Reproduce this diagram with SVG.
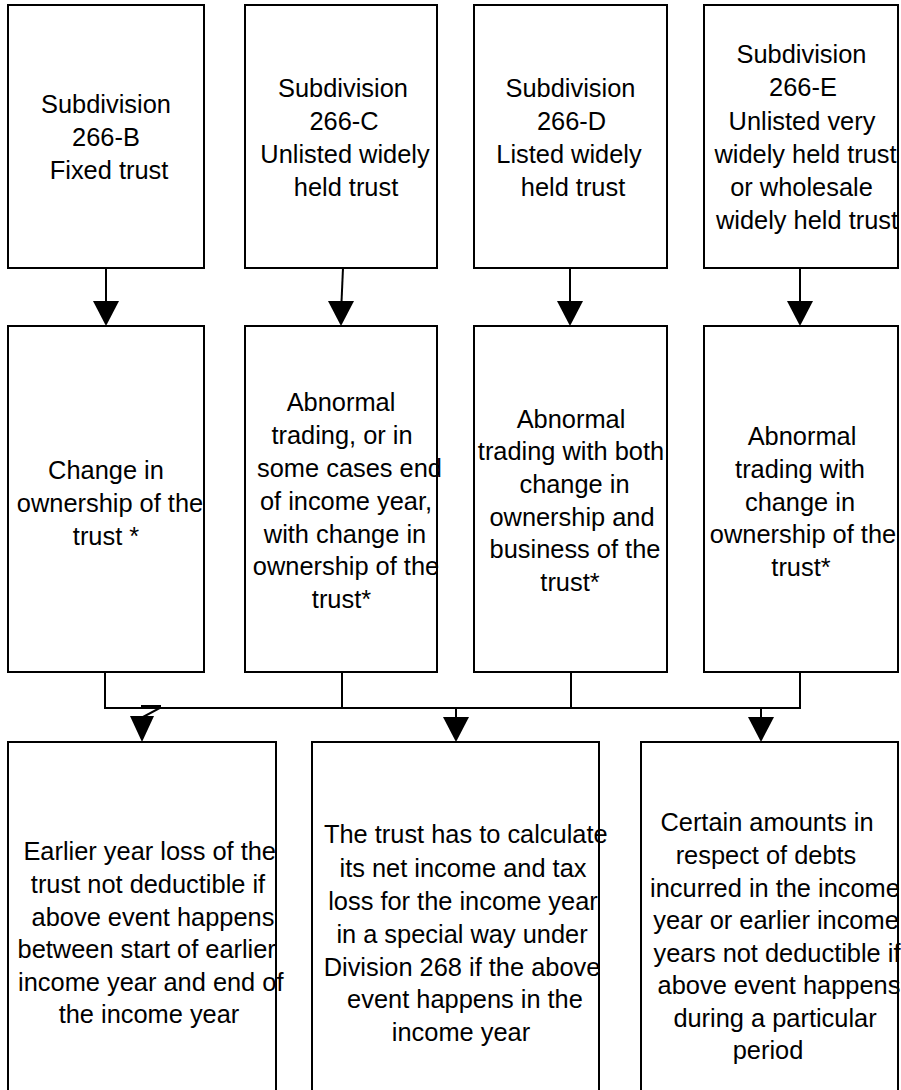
<svg xmlns="http://www.w3.org/2000/svg" width="901" height="1090" viewBox="0 0 901 1090">
<defs>
<style>
.bx{fill:none;stroke:#000;stroke-width:2}
.t{font-family:"Liberation Sans",Arial,sans-serif;font-size:25.4px;fill:#000;text-anchor:middle}
.c{fill:none;stroke:#000;stroke-width:2}
.ah{fill:#000;stroke:none}
</style>
</defs>
<rect x="0" y="0" width="901" height="1090" fill="#fff"/>
<g id="n1">
<text class="t"><tspan x="106" y="113">Subdivision</tspan><tspan x="106" y="146">266-B</tspan><tspan x="109" y="179">Fixed trust</tspan></text>
<rect class="bx" x="8" y="5" width="196" height="263"/>
</g>
<g id="n2">
<text class="t"><tspan x="343" y="97">Subdivision</tspan><tspan x="344" y="130">266-C</tspan><tspan x="345" y="163">Unlisted widely</tspan><tspan x="346" y="196">held trust</tspan></text>
<rect class="bx" x="245" y="5" width="192" height="263"/>
</g>
<g id="n3">
<text class="t"><tspan x="570.5" y="97">Subdivision</tspan><tspan x="571.5" y="130">266-D</tspan><tspan x="569" y="163">Listed widely</tspan><tspan x="573" y="196">held trust</tspan></text>
<rect class="bx" x="474" y="5" width="193" height="263"/>
</g>
<g id="n4">
<text class="t"><tspan x="801.5" y="63">Subdivision</tspan><tspan x="803" y="96">266-E</tspan><tspan x="802" y="130">Unlisted very</tspan><tspan x="805.5" y="163">widely held trust</tspan><tspan x="801.5" y="196">or wholesale</tspan><tspan x="807" y="229">widely held trust</tspan></text>
<rect class="bx" x="704" y="5" width="194" height="263"/>
</g>
<g id="n5">
<text class="t"><tspan x="106" y="479">Change in</tspan><tspan x="110" y="512">ownership of the</tspan><tspan x="106" y="545">trust *</tspan></text>
<rect class="bx" x="8" y="326" width="196" height="346"/>
</g>
<g id="n6">
<text class="t"><tspan x="341" y="411">Abnormal</tspan><tspan x="342" y="444">trading, or in</tspan><tspan x="349.5" y="477">some cases end</tspan><tspan x="346" y="510">of income year,</tspan><tspan x="345" y="543">with change in</tspan><tspan x="346" y="575">ownership of the</tspan><tspan x="341.5" y="608">trust*</tspan></text>
<rect class="bx" x="245" y="326" width="192" height="346"/>
</g>
<g id="n7">
<text class="t"><tspan x="571" y="428">Abnormal</tspan><tspan x="571" y="460">trading with both</tspan><tspan x="574.5" y="493">change in</tspan><tspan x="572" y="526">ownership and</tspan><tspan x="575" y="558">business of the</tspan><tspan x="570" y="591">trust*</tspan></text>
<rect class="bx" x="474" y="326" width="193" height="346"/>
</g>
<g id="n8">
<text class="t"><tspan x="802" y="445">Abnormal</tspan><tspan x="800" y="478">trading with</tspan><tspan x="800" y="511">change in</tspan><tspan x="803" y="543">ownership of the</tspan><tspan x="801" y="576">trust*</tspan></text>
<rect class="bx" x="704" y="326" width="194" height="346"/>
</g>
<g id="n9">
<text class="t"><tspan x="149.7" y="860">Earlier year loss of the</tspan><tspan x="148" y="893">trust not deductible if</tspan><tspan x="153" y="925.5">above event happens</tspan><tspan x="146.7" y="958">between start of earlier</tspan><tspan x="150.8" y="991">income year and end of</tspan><tspan x="149" y="1023">the income year</tspan></text>
<rect class="bx" x="8" y="742" width="268" height="360"/>
</g>
<g id="n10">
<text class="t"><tspan x="465.8" y="843">The trust has to calculate</tspan><tspan x="463" y="877">its net income and tax</tspan><tspan x="463" y="910">loss for the income year</tspan><tspan x="462" y="943">in a special way under</tspan><tspan x="462" y="976">Division 268 if the above</tspan><tspan x="465" y="1008">event happens in the</tspan><tspan x="461" y="1041">income year</tspan></text>
<rect class="bx" x="312" y="742" width="287" height="360"/>
</g>
<g id="n11">
<text class="t"><tspan x="767" y="831">Certain amounts in</tspan><tspan x="766" y="864">respect of debts</tspan><tspan x="775" y="897">incurred in the income</tspan><tspan x="776" y="929">year or earlier income</tspan><tspan x="777" y="962">years not deductible if</tspan><tspan x="779" y="994">above event happens</tspan><tspan x="775" y="1027">during a particular</tspan><tspan x="768" y="1059">period</tspan></text>
<rect class="bx" x="641" y="742" width="257" height="360"/>
</g>
<g id="connectors">
<line class="c" x1="106" y1="268" x2="106" y2="302"/>
<polygon class="ah" points="93,301 119,301 106,326"/>
<line class="c" x1="343" y1="268" x2="341.5" y2="302"/>
<polygon class="ah" points="328,301 354,301 341,326"/>
<line class="c" x1="570" y1="268" x2="570" y2="302"/>
<polygon class="ah" points="557,301 583,301 570,326"/>
<line class="c" x1="800" y1="268" x2="800" y2="302"/>
<polygon class="ah" points="787,301 813,301 800,326"/>
<line class="c" x1="105" y1="672" x2="105" y2="708"/>
<line class="c" x1="342" y1="672" x2="342" y2="708"/>
<line class="c" x1="571" y1="672" x2="571" y2="708"/>
<line class="c" x1="800" y1="672" x2="800" y2="708"/>
<line class="c" x1="104" y1="708" x2="801" y2="708"/>
<polyline class="c" points="142,708 142,706 160,706 160,708 143,717"/>
<polygon class="ah" points="130,716 154,716 142,742"/>
<line class="c" x1="456" y1="708" x2="456" y2="718"/>
<polygon class="ah" points="443,717 469,717 456,742"/>
<line class="c" x1="761" y1="708" x2="761" y2="718"/>
<polygon class="ah" points="748,717 774,717 761,742"/>
</g>
</svg>
